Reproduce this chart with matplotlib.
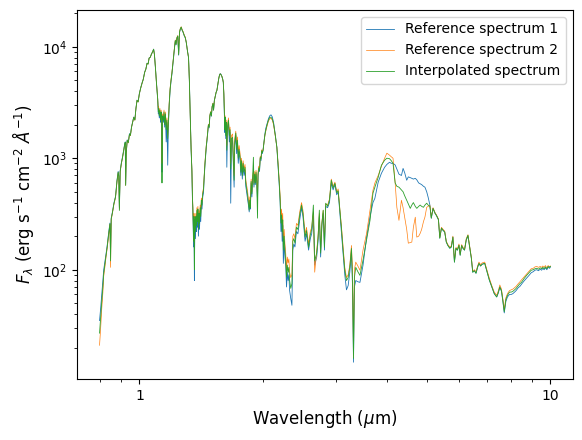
import numpy as np
import matplotlib
matplotlib.use('Agg')
import matplotlib.pyplot as plt
from matplotlib.ticker import NullFormatter

#%% spectra (wavelength in micron, flux in erg/s/cm2/A)
wave = [
    # z / Y / J
    0.800, 0.805, 0.810, 0.815, 0.819, 0.825, 0.830, 0.835, 0.842, 0.848,
    0.851, 0.854, 0.860, 0.867, 0.875, 0.882, 0.888, 0.891, 0.894, 0.898,
    0.904, 0.910, 0.915, 0.920, 0.924, 0.926, 0.929, 0.934, 0.940, 0.946,
    0.951, 0.957, 0.963, 0.969, 0.975, 0.981, 0.987, 0.993, 1.000, 1.008,
    1.015, 1.022, 1.030, 1.037, 1.044, 1.050, 1.056, 1.063, 1.070, 1.077,
    1.083, 1.088, 1.094, 1.100,
    1.104, 1.108, 1.112, 1.114, 1.118, 1.122, 1.126, 1.130, 1.133, 1.135,
    1.139, 1.144, 1.148, 1.152, 1.157, 1.162, 1.167, 1.172, 1.176, 1.182,
    1.188, 1.194, 1.200, 1.206, 1.212, 1.218, 1.223, 1.228, 1.234, 1.240,
    1.246, 1.252, 1.258, 1.264, 1.270, 1.278, 1.286, 1.293, 1.300, 1.310,
    1.317, 1.323, 1.329, 1.336, 1.342, 1.346, 1.349, 1.352, 1.355, 1.358,
    1.361, 1.364, 1.368, 1.372, 1.376, 1.380, 1.384, 1.388, 1.392, 1.396,
    1.400, 1.406, 1.410, 1.415, 1.420, 1.426, 1.432,
    # H
    1.438, 1.444, 1.450, 1.455, 1.460, 1.466, 1.472, 1.478, 1.484, 1.490,
    1.497, 1.503, 1.510, 1.515, 1.522, 1.530, 1.537, 1.544, 1.552, 1.560,
    1.567, 1.573, 1.580, 1.588, 1.595, 1.600,
    1.605, 1.610, 1.614, 1.617, 1.622, 1.627, 1.632, 1.638, 1.647, 1.655,
    1.662, 1.668, 1.675, 1.685, 1.692, 1.700, 1.706, 1.716, 1.724, 1.732,
    1.740, 1.748, 1.758, 1.765, 1.772, 1.780, 1.788, 1.797, 1.807, 1.815,
    1.826, 1.834, 1.842, 1.850, 1.856, 1.862, 1.870, 1.878, 1.886, 1.894,
    1.900, 1.908, 1.915, 1.922, 1.930, 1.938, 1.944, 1.952, 1.960, 1.968,
    1.976, 1.984, 1.992,
    # K
    2.000, 2.010, 2.020, 2.030, 2.045, 2.060, 2.075, 2.090, 2.105, 2.120,
    2.140, 2.160, 2.175, 2.190, 2.200, 2.210, 2.218, 2.225, 2.232, 2.240,
    2.250, 2.260, 2.270, 2.280, 2.290, 2.300,
    2.310, 2.320, 2.335, 2.350, 2.362, 2.375, 2.390, 2.410, 2.430, 2.455,
    2.480, 2.500, 2.530, 2.550, 2.580, 2.605, 2.625, 2.650, 2.670, 2.700,
    2.720, 2.740, 2.760, 2.780, 2.800, 2.820, 2.840, 2.870, 2.900, 2.930,
    2.960, 2.990, 3.020, 3.045, 3.070, 3.100, 3.130, 3.160, 3.190, 3.220,
    3.250, 3.280, 3.300, 3.318, 3.335,
    # L / M
    3.360, 3.400, 3.440, 3.500, 3.570, 3.640, 3.700, 3.740, 3.810, 3.880,
    3.950, 4.000, 4.060, 4.100, 4.140, 4.190, 4.230, 4.280, 4.340, 4.380,
    4.420, 4.470, 4.510, 4.560, 4.600, 4.640, 4.690, 4.730, 4.780, 4.820,
    4.860, 4.910, 4.950, 5.000, 5.040, 5.090,
    # mid-IR
    5.130, 5.180, 5.240, 5.280, 5.340, 5.380, 5.430, 5.480, 5.530, 5.580,
    5.630, 5.690, 5.740, 5.790, 5.840, 5.890, 5.940, 5.990, 6.030, 6.080,
    6.130, 6.180, 6.240, 6.300, 6.350, 6.420, 6.470, 6.530, 6.590, 6.650,
    6.700, 6.760, 6.820, 6.920, 6.990, 7.100, 7.200, 7.300, 7.400, 7.470,
    7.530, 7.600, 7.660, 7.720, 7.790, 7.860, 7.950, 8.030, 8.100, 8.180,
    8.250, 8.350, 8.430, 8.500, 8.620, 8.750, 8.870, 8.980, 9.080, 9.170,
    9.260, 9.350, 9.440, 9.520, 9.580, 9.650, 9.720, 9.800, 9.870, 9.950,
    10.000,
]

flux_ref1 = [
    35, 45, 60, 78, 100, 120, 140, 165, 215, 262,
    150, 290, 330, 395, 455, 630, 760, 700, 360, 770,
    910, 1030, 1160, 1310, 1400, 580, 1110, 1460, 1390, 1660,
    1610, 1910, 2110, 2340, 2210, 2810, 3320, 3210, 3810, 4310,
    4720, 5110, 5910, 6310, 7110, 7010, 7910, 8060, 8610, 9010,
    9510, 8500, 6500, 4800,
    4050, 3350, 2500, 2750, 2300, 2600, 2100, 2500, 1400, 750,
    2300, 2100, 2500, 1900, 2400, 1400, 2100, 866, 1900, 3000,
    4100, 4900, 5700, 6900, 8200, 9900, 11300, 10400, 11900, 12400,
    8400, 13400, 14400, 14900, 14100, 13400, 12500, 12000, 11000, 9000,
    8000, 5000, 2500, 1200, 760, 430, 340, 230, 160, 280,
    80, 250, 190, 270, 220, 310, 240, 320, 200, 290,
    230, 330, 270, 390, 350, 450, 490,
    670, 870, 1070, 1270, 1420, 1670, 1970, 1870, 2370, 2570,
    2380, 2880, 3080, 2700, 3300, 3600, 3900, 4070, 4600, 5200,
    5600, 5750, 5650, 5400, 5100, 4800,
    3700, 2300, 1700, 2200, 1500, 2000, 830, 1800, 2100, 1400,
    1700, 395, 1300, 1450, 900, 550, 1300, 1600, 1100, 1350,
    900, 1150, 950, 700, 900, 650, 850, 700, 780, 560,
    480, 430, 380, 330, 400, 350, 600, 450, 650, 700,
    550, 700, 580, 720, 600, 420, 700, 800, 760, 1000,
    950, 1150, 1100,
    1200, 1400, 1650, 1850, 2050, 2250, 2400, 2450, 2350, 2100,
    1650, 1250, 850, 560, 400, 220, 280, 180, 250, 114,
    180, 130, 110, 70, 95, 80,
    90, 65, 55, 48, 150, 170, 160, 220, 210, 280,
    360, 300, 180, 210, 150, 190, 210, 300, 110, 130,
    180, 300, 130, 250, 320, 150, 370, 360, 400, 600,
    520, 580, 470, 500, 340, 220, 140, 90, 66, 72,
    95, 145, 70, 14.8, 70,
    80, 78, 77, 110, 196, 300, 400, 437, 610, 733,
    830, 880, 920, 900, 900, 870, 800, 720, 700, 810,
    740, 635, 680, 670, 660, 650, 660, 640, 600, 590,
    580, 560, 550, 500, 447, 380,
    290, 355, 320, 305, 280, 192, 236, 225, 218, 177,
    165, 156, 160, 196, 117, 155, 150, 166, 135, 165,
    155, 150, 185, 200, 165, 127, 95, 98, 93, 105,
    114, 108, 112, 114, 100, 81, 70, 61, 57, 62,
    70, 64, 52, 41, 52, 57, 60, 60, 61, 63,
    65, 69, 71, 74, 79, 84, 89, 94, 96, 99,
    100, 98, 101, 99, 103, 100, 104, 100, 105, 103,
    106,
]

flux_ref2 = [
    21, 30, 45, 62, 88, 108, 132, 155, 205, 255,
    105, 280, 322, 385, 445, 610, 740, 680, 350, 750,
    890, 1010, 1140, 1290, 1380, 570, 1090, 1440, 1370, 1640,
    1590, 1890, 2090, 2320, 2190, 2790, 3300, 3190, 3790, 4290,
    4700, 5090, 5890, 6290, 7090, 6990, 7890, 8040, 8590, 8990,
    9490, 8500, 6500, 4800,
    4100, 3450, 2700, 2900, 2500, 2800, 2300, 2700, 1600, 900,
    2500, 2300, 2700, 2100, 2600, 1900, 2300, 1600, 2100, 3200,
    4300, 5100, 5900, 7100, 8400, 10100, 11500, 10600, 12100, 12600,
    8600, 13600, 14600, 15100, 14300, 13600, 12700, 12200, 11000, 9000,
    8000, 5000, 2500, 1250, 800, 470, 380, 270, 200, 320,
    140, 300, 240, 320, 270, 360, 290, 370, 250, 340,
    280, 380, 320, 440, 400, 500, 540,
    720, 920, 1120, 1320, 1470, 1720, 2020, 1920, 2420, 2620,
    2420, 2920, 3120, 2700, 3300, 3600, 3900, 4070, 4600, 5200,
    5600, 5700, 5600, 5400, 5100, 4800,
    3900, 2600, 1900, 2400, 1800, 2200, 1300, 2000, 2300, 1700,
    1900, 900, 1600, 1650, 1100, 700, 1500, 1750, 1300, 1550,
    1100, 1300, 1100, 800, 1000, 780, 950, 800, 880, 640,
    550, 500, 420, 380, 450, 380, 650, 500, 700, 760,
    600, 760, 630, 780, 650, 450, 760, 850, 800, 1040,
    1000, 1190, 1150,
    1200, 1380, 1600, 1750, 1950, 2150, 2250, 2280, 2200, 2000,
    1600, 1250, 900, 620, 460, 300, 350, 260, 320, 180,
    230, 170, 140, 100, 130, 115,
    125, 95, 85, 90, 200, 210, 190, 260, 250, 330,
    400, 340, 210, 240, 170, 220, 240, 330, 95, 150,
    200, 320, 150, 270, 340, 170, 390, 380, 430, 650,
    560, 610, 500, 530, 370, 250, 160, 105, 85, 90,
    110, 165, 100, 16.5, 100,
    117, 108, 99, 150, 212, 342, 516, 600, 700, 850,
    1000, 1110, 1065, 1030, 1000, 600, 363, 277, 420, 360,
    296, 230, 173, 175, 177, 240, 296, 196, 200, 212,
    230, 270, 296, 363, 370, 379,
    295, 360, 325, 310, 285, 195, 240, 230, 222, 180,
    168, 160, 164, 200, 120, 158, 154, 170, 138, 168,
    158, 153, 190, 206, 170, 130, 97, 100, 96, 108,
    117, 111, 115, 117, 103, 84, 72, 63, 59, 65,
    73, 67, 55, 44, 56, 61, 65, 66, 67, 69,
    71, 75, 78, 81, 86, 92, 97, 102, 103, 106,
    107, 105, 107, 105, 108, 105, 109, 104, 109, 106,
    108,
]

flux_interp = [
    27, 38, 52, 70, 93, 115, 136, 160, 210, 258,
    120, 285, 326, 390, 450, 620, 750, 690, 340, 760,
    900, 1020, 1150, 1300, 1390, 570, 1100, 1450, 1380, 1650,
    1600, 1900, 2100, 2330, 2200, 2800, 3310, 3200, 3800, 4300,
    4710, 5100, 5900, 6300, 7100, 7000, 7900, 8050, 8600, 9000,
    9500, 8500, 6500, 4800,
    4070, 3400, 2600, 2800, 2400, 2700, 2200, 2600, 1500, 600,
    2400, 2200, 2600, 2000, 2500, 1800, 2200, 1500, 2000, 3100,
    4200, 5000, 5800, 7000, 8300, 10000, 11400, 10500, 12000, 12500,
    8500, 13500, 14500, 15000, 14200, 13500, 12600, 12100, 11000, 9000,
    8000, 5000, 2500, 1200, 780, 450, 363, 250, 180, 300,
    100, 280, 220, 300, 250, 340, 270, 350, 230, 320,
    260, 360, 300, 420, 380, 480, 516,
    700, 900, 1100, 1300, 1450, 1700, 2000, 1900, 2400, 2600,
    2400, 2900, 3100, 2700, 3300, 3600, 3900, 4070, 4600, 5200,
    5600, 5700, 5600, 5400, 5100, 4800,
    3800, 2500, 1800, 2330, 1600, 2100, 1180, 1900, 2190, 1600,
    1800, 800, 1500, 1540, 1000, 635, 1400, 1680, 1200, 1450,
    1000, 1200, 1020, 750, 950, 700, 900, 750, 830, 600,
    516, 460, 400, 342, 420, 360, 620, 480, 680, 1020,
    580, 720, 600, 750, 620, 290, 720, 820, 780, 1020,
    980, 1170, 1120,
    1180, 1400, 1620, 1780, 2000, 2190, 2330, 2330, 2250, 2050,
    1620, 1255, 870, 580, 420, 262, 310, 220, 280, 150,
    200, 150, 120, 86, 110, 95,
    105, 80, 68, 75, 180, 190, 173, 240, 230, 310,
    380, 320, 196, 225, 159, 205, 230, 380, 120, 141,
    190, 342, 141, 260, 342, 159, 395, 370, 420, 635,
    540, 596, 490, 510, 363, 240, 150, 99, 80, 85,
    105, 155, 80, 16, 85,
    105, 96, 89, 122, 184, 278, 485, 550, 675, 865,
    960, 1000, 990, 950, 900, 600, 560, 550, 520, 500,
    460, 420, 390, 355, 380, 400, 370, 355, 370, 380,
    370, 363, 380, 395, 380, 370,
    290, 355, 320, 308, 282, 192, 236, 226, 218, 177,
    165, 156, 160, 196, 117, 156, 150, 166, 135, 165,
    155, 150, 186, 204, 166, 127, 95, 98, 93, 106,
    114, 108, 112, 114, 100, 81, 70, 61, 57, 63,
    70, 65, 53, 42, 54, 59, 63, 63, 64, 66,
    68, 72, 75, 77, 83, 89, 94, 99, 100, 102,
    103, 101, 104, 102, 105, 102, 106, 102, 107, 105,
    107,
]

labels = ['Reference spectrum 1', 'Reference spectrum 2', 'Interpolated spectrum']
xticks = [1, 10]
xticklabels = ['1', '10']

#%% plot
fig = plt.figure(figsize=(5.82, 4.40), dpi=100)
ax = fig.add_axes([77/582, 61/440, 496/582, 369/440])

ax.plot(wave, flux_ref1, lw=0.6, color='tab:blue', label=labels[0])
ax.plot(wave, flux_ref2, lw=0.5, color='tab:orange', label=labels[1])
ax.plot(wave, flux_interp, lw=0.6, color='tab:green', label=labels[2])

ax.set_xscale('log')
ax.set_yscale('log')
ax.set_xticks(xticks)
ax.set_xticklabels(xticklabels)
ax.xaxis.set_minor_formatter(NullFormatter())

ax.set_xlabel(r'Wavelength ($\mu$m)', fontsize=12)
ax.set_ylabel(r'$F_\lambda$ (erg s$^{-1}$ cm$^{-2}$ $\AA^{-1}$)', fontsize=12)
ax.legend(loc='upper right')

plt.savefig('out.png', dpi=100)
